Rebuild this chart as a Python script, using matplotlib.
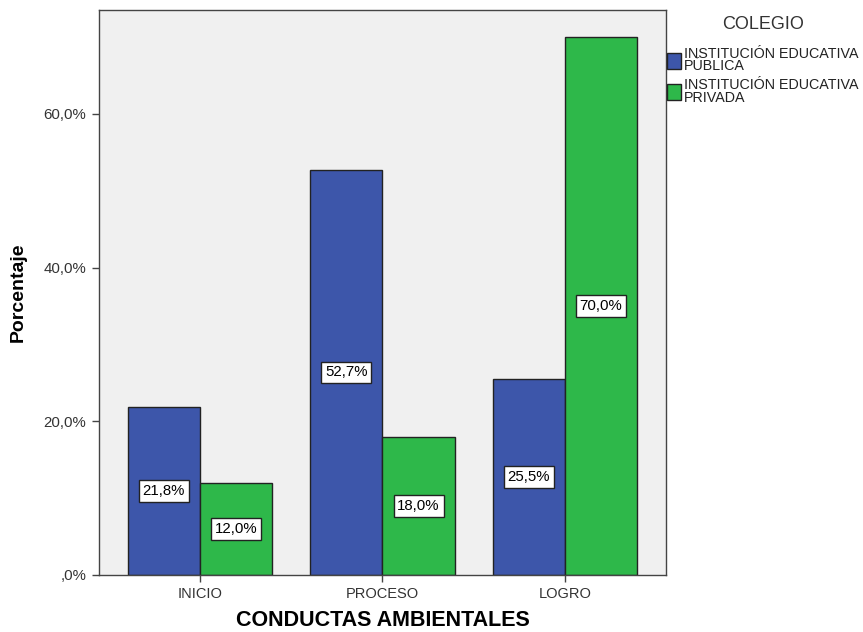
import numpy as np
import matplotlib.pyplot as plt
from matplotlib.patches import Patch

categorias = ["INICIO", "PROCESO", "LOGRO"]
publica = [21.8, 52.7, 25.5]
privada = [12.0, 18.0, 70.0]
series = ["INSTITUCIÓN EDUCATIVA\nPÚBLICA", "INSTITUCIÓN EDUCATIVA\nPRIVADA"]

azul = "#3d56aa"
verde = "#2eb84a"

plt.rcParams['font.family'] = ['Liberation Sans', 'DejaVu Sans']

fig = plt.figure(figsize=(8.63, 6.32), dpi=100)
ax = fig.add_axes([0.1147, 0.0902, 0.657, 0.894])
ax.set_facecolor("#f0f0f0")

x = np.arange(len(categorias))
w = 0.395
b1 = ax.bar(x - w/2, publica, w, color=azul, edgecolor="#222222", linewidth=1)
b2 = ax.bar(x + w/2, privada, w, color=verde, edgecolor="#222222", linewidth=1)

# etiquetas en la mitad de cada barra
for bars, vals in [(b1, publica), (b2, privada)]:
    for r, v in zip(bars, vals):
        ax.text(r.get_x() + r.get_width()/2, v/2, f"{v:.1f}%".replace(".", ","),
                ha="center", va="center", fontsize=10.8,
                bbox=dict(boxstyle="square,pad=0.25", fc="white", ec="#222222", lw=1))

ax.set_xlim(-0.553, 2.553)
ax.set_ylim(0, 73.5)
ax.set_yticks([0, 20, 40, 60])
ax.set_yticklabels([",0%", "20,0%", "40,0%", "60,0%"], fontsize=10.8, color="#333333")
ax.set_xticks(x)
ax.set_xticklabels(categorias, fontsize=10.5, color="#333333")
ax.tick_params(direction="out", length=5, width=1, color="#444444", pad=4)
for s in ax.spines.values():
    s.set_color("#444444")
    s.set_linewidth(1)

ax.set_ylabel("Porcentaje", fontsize=14, fontweight="bold", labelpad=12)
ax.set_xlabel("CONDUCTAS AMBIENTALES", fontsize=15.5, fontweight="bold", labelpad=6)

handles = [Patch(facecolor=azul, edgecolor="#222222"), Patch(facecolor=verde, edgecolor="#222222")]
leg = fig.legend(handles, series, title="COLEGIO", loc="upper left",
                 bbox_to_anchor=(0.763, 0.988), frameon=False, fontsize=10.3,
                 title_fontsize=13, handlelength=1.0, handleheight=1.3,
                 handletextpad=0.2, labelspacing=0.35, borderaxespad=0.2)
leg.get_title().set_color("#333333")
leg._legend_box.sep = 10
for t in leg.get_texts():
    t.set_color("#222222")
    t.set_linespacing(0.85)

fig.savefig("out.png", dpi=100)
